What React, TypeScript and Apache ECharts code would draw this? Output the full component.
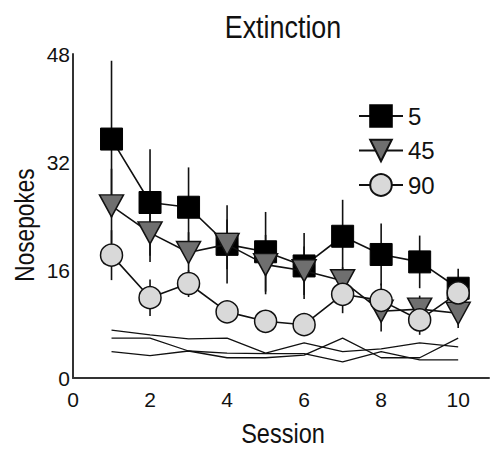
import React, { useEffect, useRef } from "react";
import * as echarts from "echarts";

const sessions = [1, 2, 3, 4, 5, 6, 7, 8, 9, 10];
const mean5 = [35.4, 26.0, 25.3, 19.8, 18.7, 16.6, 21.0, 18.3, 17.2, 13.3];
const sem5 = [11.6, 7.9, 5.9, 3.7, 5.9, 4.9, 5.4, 4.6, 3.9, 2.9];
const mean45 = [25.5, 21.5, 18.6, 19.8, 16.8, 15.9, 14.4, 9.9, 10.2, 9.6];
const sem45 = [5.5, 4.3, 3.0, 5.8, 4.4, 3.6, 2.0, 3.0, 2.0, 2.2];
const mean90 = [18.2, 11.9, 14.0, 9.8, 8.4, 7.9, 12.4, 11.5, 8.6, 12.6];
const sem90 = [3.7, 2.7, 2.0, 1.5, 1.2, 1.2, 2.8, 2.5, 2.2, 1.8];
const base1 = [7.1, 6.4, 5.8, 5.9, 3.7, 5.2, 3.9, 4.3, 5.2, 4.6];
const base2 = [5.9, 5.9, 4.0, 3.0, 3.0, 3.4, 5.9, 3.0, 3.0, 5.9];
const base3 = [3.9, 3.3, 4.0, 3.7, 3.6, 3.6, 2.4, 3.9, 2.7, 2.7];
const groupNames = ["5", "45", "90"];
const yTicks = [0, 16, 32, 48];
const xTicks = [0, 2, 4, 6, 8, 10];
const titleText = "Extinction";
const xName = "Session";
const yName = "Nosepokes";

const FONT = "'Liberation Sans', Arial, Helvetica, sans-serif";
const SQUEEZE = 0.84;

function pairs(vals: number[]) {
  return sessions.map((s, i) => [s, vals[i]]);
}
function errData(m: number[], e: number[]) {
  return sessions.map((s, i) => [s, m[i] - e[i], m[i] + e[i]]);
}

export default function App() {
  const ref = useRef<HTMLDivElement>(null);
  useEffect(() => {
    document.body.style.margin = "0";
    if (!ref.current) return;
    const chart = echarts.init(ref.current, undefined, { renderer: "svg" });
    const errSeries = (m: number[], e: number[], z: number) => ({
      type: "custom",
      z,
      silent: true,
      data: errData(m, e),
      encode: { x: 0, y: [1, 2] },
      renderItem: (params: any, api: any) => {
        const x = api.value(0);
        const p1 = api.coord([x, api.value(1)]);
        const p2 = api.coord([x, api.value(2)]);
        return {
          type: "line",
          shape: { x1: p1[0], y1: p1[1], x2: p2[0], y2: p2[1] },
          style: { stroke: "#111", lineWidth: 1.6 },
        };
      },
    });
    const baseSeries = (vals: number[]) => ({
      type: "line",
      data: pairs(vals),
      symbol: "none",
      z: 1,
      silent: true,
      lineStyle: { color: "#111", width: 1.3 },
    });
    const txt = (text: string, x: number, y: number, size: number, rotation = 0) => ({
      type: "text",
      x,
      y,
      rotation,
      scaleX: SQUEEZE,
      silent: true,
      style: {
        text,
        fontFamily: FONT,
        fontSize: size,
        fill: "#111",
        textAlign: "center",
        textVerticalAlign: "middle",
      },
    });
    chart.setOption({
      animation: false,
      graphic: [
        txt(titleText, 283, 27, 32),
        txt(xName, 283, 433, 28),
        txt(yName, 24, 225, 27, Math.PI / 2),
      ],
      legend: {
        data: groupNames,
        orient: "vertical",
        left: 353,
        top: 99,
        itemWidth: 44,
        itemHeight: 27,
        itemGap: 10.5,
        textStyle: { fontFamily: FONT, fontSize: 24, color: "#111" },
      },
      grid: { left: 73, top: 54, right: 3, bottom: 71 },
      xAxis: {
        type: "value",
        min: 0,
        max: 10.8,
        interval: 2,
        axisLine: { show: true, lineStyle: { color: "#333", width: 2 } },
        axisTick: { show: false },
        splitLine: { show: false },
        axisLabel: {
          showMaxLabel: false,
          margin: 11,
          fontFamily: FONT,
          fontSize: 21,
          color: "#111",
          formatter: (v: number) => (xTicks.includes(v) ? String(v) : ""),
        },
      },
      yAxis: {
        type: "value",
        min: 0,
        max: 48,
        interval: 16,
        axisLine: { show: true, lineStyle: { color: "#333", width: 2 } },
        axisTick: { show: false },
        splitLine: { show: false },
        axisLabel: {
          margin: 3,
          fontFamily: FONT,
          fontSize: 21,
          color: "#111",
          formatter: (v: number) => (yTicks.includes(v) ? String(v) : ""),
        },
      },
      series: [
        baseSeries(base1),
        baseSeries(base2),
        baseSeries(base3),
        errSeries(mean5, sem5, 1),
        errSeries(mean45, sem45, 1),
        errSeries(mean90, sem90, 1),
        {
          name: groupNames[0],
          type: "line",
          data: pairs(mean5),
          z: 2,
          symbol: "rect",
          symbolSize: 22,
          lineStyle: { color: "#111", width: 1.6 },
          itemStyle: { color: "#000", borderColor: "#000", borderWidth: 1 },
        },
        {
          name: groupNames[1],
          type: "line",
          data: pairs(mean45),
          z: 3,
          symbol: "triangle",
          symbolRotate: 180,
          symbolSize: [24, 22],
          lineStyle: { color: "#111", width: 1.6 },
          itemStyle: { color: "#6f6f6f", borderColor: "#111", borderWidth: 1.5 },
        },
        {
          name: groupNames[2],
          type: "line",
          data: pairs(mean90),
          z: 4,
          symbol: "circle",
          symbolSize: 22,
          lineStyle: { color: "#111", width: 1.6 },
          itemStyle: { color: "#d9d9d9", borderColor: "#111", borderWidth: 1.5 },
        },
      ],
    });
    return () => chart.dispose();
  }, []);
  return (
    <div
      ref={ref}
      style={{ position: "absolute", left: 0, top: 0, width: 492, height: 449, background: "#fff" }}
    />
  );
}
